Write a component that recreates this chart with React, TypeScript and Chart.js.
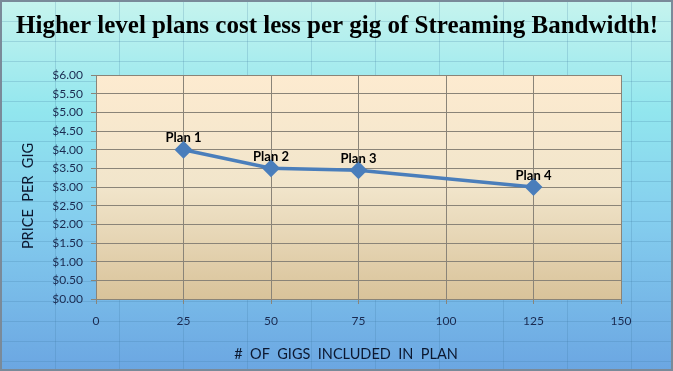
import React, { useEffect, useRef } from "react";
import { Chart, registerables } from "chart.js";

Chart.register(...registerables);

const planLabels = ["Plan 1", "Plan 2", "Plan 3", "Plan 4"];
const gigs = [25, 50, 75, 125];
const pricePerGig = [4.0, 3.5, 3.45, 3.0];
const xTicks = [0, 25, 50, 75, 100, 125, 150];
const yMax = 6;
const titleText = "Higher level plans cost less per gig of Streaming Bandwidth!";
const xTitle = "#  OF  GIGS  INCLUDED  IN  PLAN";
const yTitle = "PRICE  PER  GIG";

const W = 673;
const H = 371;

const bgPlugin = {
  id: "bgPlugin",
  beforeDraw(chart: any) {
    const { ctx, chartArea } = chart;
    ctx.save();
    const g = ctx.createLinearGradient(0, 0, 0, H);
    g.addColorStop(0, "#c6f4ee");
    g.addColorStop(0.3, "#92e6ee");
    g.addColorStop(0.6, "#84cdee");
    g.addColorStop(1, "#6ba6e2");
    ctx.fillStyle = g;
    ctx.fillRect(0, 0, W, H);
    // sheet cell lines behind the chart
    ctx.strokeStyle = "rgba(60,120,160,0.22)";
    ctx.lineWidth = 1;
    for (let x = 55.5; x < W; x += 64) {
      ctx.beginPath();
      ctx.moveTo(x, 0);
      ctx.lineTo(x, H);
      ctx.stroke();
    }
    for (let y = 1.5; y < H; y += 20) {
      ctx.beginPath();
      ctx.moveTo(0, y);
      ctx.lineTo(W, y);
      ctx.stroke();
    }
    // plot area gradient
    const pg = ctx.createLinearGradient(0, chartArea.top, 0, chartArea.bottom);
    pg.addColorStop(0, "#fdebd0");
    pg.addColorStop(0.5, "#f1e5cb");
    pg.addColorStop(1, "#d9c39a");
    ctx.fillStyle = pg;
    ctx.fillRect(chartArea.left, chartArea.top, chartArea.right - chartArea.left, chartArea.bottom - chartArea.top);
    ctx.restore();
  },
  afterDraw(chart: any) {
    const { ctx } = chart;
    ctx.save();
    // title
    ctx.fillStyle = "#000000";
    ctx.font = "bold 25px 'Liberation Serif', serif";
    ctx.textAlign = "center";
    ctx.textBaseline = "middle";
    ctx.fillText(titleText, 337, 27);
    // axis titles
    ctx.fillStyle = "#0c1830";
    ctx.font = "14.5px Lato, 'Noto Sans', sans-serif";
    ctx.fillText(xTitle, 346, 354);
    ctx.translate(28, 196);
    ctx.rotate(-Math.PI / 2);
    ctx.fillText(yTitle, 0, 0);
    ctx.restore();
    // border
    ctx.save();
    ctx.strokeStyle = "#7a8a99";
    ctx.lineWidth = 2;
    ctx.strokeRect(1, 1, W - 2, H - 2);
    ctx.restore();
  },
  afterDatasetsDraw(chart: any) {
    const { ctx } = chart;
    const meta = chart.getDatasetMeta(0);
    ctx.save();
    ctx.fillStyle = "#000000";
    ctx.font = "bold 13px Lato, 'Noto Sans', sans-serif";
    ctx.textAlign = "center";
    ctx.textBaseline = "bottom";
    meta.data.forEach((pt: any, i: number) => {
      ctx.fillText(planLabels[i], pt.x, pt.y - 5);
    });
    ctx.restore();
  },
};

export default function App() {
  const ref = useRef<HTMLCanvasElement>(null);
  useEffect(() => {
    const chart = new Chart(ref.current!, {
      type: "line",
      data: {
        datasets: [
          {
            data: gigs.map((g, i) => ({ x: g, y: pricePerGig[i] })),
            borderColor: "#4a7ebb",
            backgroundColor: "#4a7ebb",
            borderWidth: 3.5,
            pointStyle: "rectRot",
            pointRadius: 6.5,
            pointHoverRadius: 6.5,
            tension: 0,
          },
        ],
      },
      options: {
        animation: false,
        responsive: false,
        maintainAspectRatio: false,
        layout: { padding: { top: 75, right: 52, left: 0, bottom: 0 } },
        plugins: { legend: { display: false }, tooltip: { enabled: false }, title: { display: false } },
        scales: {
          x: {
            type: "linear",
            min: 0,
            max: 150,
            afterBuildTicks: (s: any) => {
              s.ticks = xTicks.map((v) => ({ value: v }));
            },
            afterFit: (s: any) => {
              s.height = 72;
            },
            grid: { color: "#8a8478", lineWidth: 1, tickLength: 5, drawTicks: true },
            border: { color: "#8a8478" },
            ticks: {
              color: "#1a2a50",
              font: { family: "Lato, 'Noto Sans', sans-serif", size: 12 },
              padding: 10,
              maxRotation: 0,
            },
          },
          y: {
            min: 0,
            max: yMax,
            afterFit: (s: any) => {
              s.width = 96;
            },
            grid: { color: "#8a8478", lineWidth: 1, tickLength: 5 },
            border: { color: "#8a8478" },
            ticks: {
              stepSize: 0.5,
              color: "#1a2a50",
              font: { family: "Lato, 'Noto Sans', sans-serif", size: 12 },
              padding: 8,
              callback: (v: any) => "$" + Number(v).toFixed(2),
            },
          },
        },
      },
      plugins: [bgPlugin],
    } as any);
    return () => chart.destroy();
  }, []);
  return (
    <div style={{ position: "fixed", left: 0, top: 0, width: W, height: H }}>
      <canvas ref={ref} width={W} height={H} style={{ width: W, height: H, display: "block" }} />
    </div>
  );
}
